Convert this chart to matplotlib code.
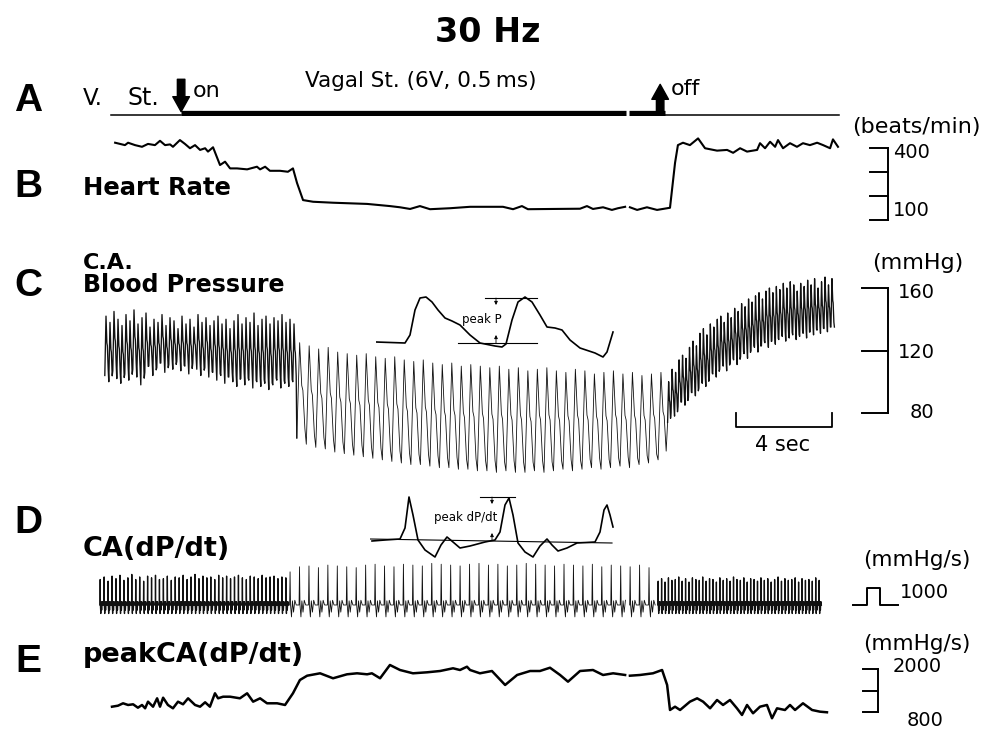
import matplotlib.pyplot as plt
import numpy as np

plt.rcParams['font.family'] = 'DejaVu Sans'

# ---------------- values ----------------
# time in seconds from the left end of the traces

# A: vagal stimulation marker
stim_span = [0.46, 30.8]
stim_on = 3.38
stim_off = 23.54
splice = [21.9, 22.06]          # small break in the chart paper

# B: heart rate (beats/min)
hr_t = [0.63, 1.04, 1.17, 1.46, 1.75, 2.0, 2.29, 2.5, 2.71, 2.92, 3.04, 3.33,
        3.54, 3.75, 3.96, 4.17, 4.38, 4.5, 4.71, 5.0, 5.21, 5.42, 5.71, 6.13,
        6.54, 6.67, 6.88, 7.08, 7.5, 7.83, 8.04, 8.21, 8.46, 8.88, 9.71, 11.13,
        12.08, 12.5, 12.92, 13.33, 13.75, 14.58, 15.42, 16.79, 17.21, 17.58, 17.83, 18.88,
        20.0, 20.29, 20.54, 20.96, 21.33, 21.58, 21.88, 22.08, 22.38, 22.79, 23.21, 23.75,
        23.96, 24.08, 24.29, 24.58, 24.92, 25.21, 25.71, 26.13, 26.38, 26.67, 26.96, 27.38,
        27.5, 27.71, 27.92, 28.13, 28.25, 28.46, 28.75, 29.04, 29.29, 29.58, 29.88, 30.13,
        30.42, 30.54, 30.75]
hr_bpm = [422, 412, 422, 412, 405, 417, 412, 430, 412, 415, 405, 433,
          417, 399, 412, 392, 399, 385, 403, 329, 343, 315, 315, 311,
          322, 311, 322, 305, 305, 301, 315, 254, 183, 176, 172, 167,
          158, 153, 146, 158, 145, 149, 155, 155, 145, 158, 145, 146,
          147, 158, 146, 153, 142, 149, 155, 153, 142, 153, 142, 151,
          338, 412, 422, 412, 440, 399, 389, 392, 380, 399, 385, 392,
          420, 399, 426, 405, 433, 399, 420, 405, 420, 412, 422, 412,
          399, 436, 405]

# C: carotid arterial pressure, beat by beat (mmHg)
bp_edges = [0.2, 8.2, 23.65, 30.6]
bp_sys_pre = [142, 138, 145, 140, 136, 143, 139, 146, 137, 141, 144, 135,
              140, 138, 143, 136, 141, 139, 134, 142, 137, 140, 135, 143,
              138, 141, 136, 139, 142, 137, 140, 134, 139, 143, 137, 141,
              138, 144, 136, 140, 142, 137, 141, 139, 143, 138, 140, 137]
bp_dia_pre = [104, 100, 107, 102, 99, 105, 101, 108, 103, 98, 106, 110,
              104, 109, 112, 106, 111, 108, 113, 107, 110, 105, 112, 108,
              104, 109, 103, 106, 101, 104, 99, 103, 100, 97, 102, 98,
              101, 96, 100, 97, 99, 95, 98, 101, 96, 99, 97, 100]
bp_sys_stim = [125, 123, 121, 122, 119, 118, 117, 118, 116, 115,
               116, 114, 113, 114, 112, 111, 112, 110, 111, 110,
               109, 110, 108, 109, 107, 108, 109, 107, 106, 108,
               107, 105, 106, 107, 105, 106, 104, 105, 106]
bp_dia_stim = [64, 60, 58, 57, 55, 54, 53, 52, 51, 50,
               49, 48, 47, 47, 46, 45, 45, 44, 44, 43,
               43, 42, 43, 42, 42, 43, 42, 43, 44, 43,
               44, 45, 44, 45, 46, 45, 47, 48, 50]
bp_sys_post = [100, 108, 106, 114, 117, 115, 122, 126, 123, 131,
               134, 130, 137, 135, 140, 142, 138, 144, 141, 147,
               145, 150, 148, 153, 151, 155, 157, 153, 158, 160,
               157, 161, 159, 163, 160, 164, 162, 158, 163, 161,
               165, 162, 166, 160, 164, 167, 162, 166]
bp_dia_post = [74, 80, 78, 84, 87, 85, 90, 93, 91, 96,
               99, 97, 102, 105, 103, 108, 110, 107, 112, 114,
               111, 116, 118, 115, 120, 122, 119, 123, 125, 122,
               126, 124, 127, 129, 126, 128, 130, 127, 129, 131,
               128, 132, 130, 133, 131, 134, 132, 135]

# D: dP/dt, peak of each beat (mmHg/s) and size of the negative swing
dp_edges = [0.0, 7.9, 23.25, 30.1]
dp_pk_pre = [1500, 1650, 1400, 1700, 1550, 1750, 1450, 1600, 1800, 1500, 1650, 1400,
             1700, 1600, 1750, 1500, 1550, 1700, 1450, 1650, 1600, 1750, 1500, 1650,
             1800, 1550, 1700, 1600, 1650, 1500, 1750, 1600, 1700, 1550, 1650, 1750,
             1600, 1500, 1700, 1650, 1550, 1750, 1600, 1650, 1700, 1550, 1650, 1600]
dp_pk_stim = [1950, 2250, 2300, 2200, 2350, 2300, 2250, 2200, 2350, 2400,
              2300, 2250, 2400, 2350, 2300, 2450, 2400, 2350, 2300, 2400,
              2450, 2350, 2400, 2300, 2350, 2450, 2400, 2350, 2300, 2400,
              2350, 2300, 2400, 2250, 2350, 2300, 2250, 2350, 2200]
dp_pk_post = [1400, 1550, 1350, 1600, 1450, 1500, 1650, 1400, 1550, 1350, 1600, 1500,
              1450, 1650, 1400, 1550, 1500, 1350, 1600, 1450, 1550, 1400, 1650, 1500,
              1450, 1600, 1350, 1550, 1500, 1400, 1600, 1450, 1550, 1350, 1500, 1650,
              1400, 1550, 1450, 1500, 1600, 1350, 1550, 1450, 1500, 1400, 1600, 1450]
dp_dip = [500, 700, 500]

# E: peak dP/dt (mmHg/s)
pk_t = [0.5, 0.75, 0.96, 1.17, 1.38, 1.58, 1.75, 1.88, 2.0, 2.21, 2.38, 2.5,
        2.63, 2.83, 3.04, 3.25, 3.46, 3.67, 3.96, 4.17, 4.38, 4.58, 4.79, 4.92,
        5.13, 5.42, 5.83, 6.13, 6.38, 6.67, 6.96, 7.38, 7.71, 8.04, 8.33, 8.63,
        9.17, 9.71, 10.29, 10.71, 11.13, 11.33, 11.67, 12.08, 12.5, 13.04, 13.63, 14.17,
        14.71, 15.0, 15.29, 15.42, 15.83, 16.33, 16.88, 17.38, 17.92, 18.33, 18.75, 19.17,
        19.5, 20.0, 20.54, 20.96, 21.38, 21.88, 22.08, 22.5, 23.04, 23.42, 23.63, 23.75,
        23.96, 24.17, 24.58, 24.88, 25.13, 25.42, 25.71, 25.96, 26.25, 26.54, 26.75, 26.96,
        27.21, 27.5, 27.79, 28.0, 28.21, 28.54, 28.75, 28.96, 29.29, 29.67, 30.0, 30.29]
pk_val = [948, 976, 1043, 996, 1015, 920, 996, 903, 1088, 948, 1182, 948,
          1199, 996, 903, 1088, 1015, 1182, 996, 948, 1071, 948, 1322, 1182,
          1227, 1227, 1182, 1322, 1088, 1182, 1043, 1043, 996, 1322, 1693, 1813,
          1880, 1741, 1852, 1880, 1852, 1880, 1741, 2112, 1972, 1880, 1908, 1944,
          2020, 1972, 2064, 1972, 1880, 1944, 1554, 1833, 1944, 1944, 2036, 1833,
          1646, 1944, 1972, 1833, 1880, 1833, 1813, 1833, 1880, 1972, 1554, 856,
          948, 856, 1088, 1182, 1088, 903, 1135, 996, 1135, 903, 717, 996,
          764, 948, 996, 625, 903, 856, 996, 856, 1043, 856, 809, 792]

# magnified single beats shown as insets (relative units)
ins_bp_x = [0, 29, 34, 39, 44, 50, 56, 62, 69, 76, 84, 94, 104, 119, 126, 130,
            136, 142, 149, 156, 164, 171, 179, 186, 194, 204, 219, 227, 231, 237]
ins_bp_y = [23, 22, 30, 55, 67, 68, 63, 55, 47, 44, 40, 30, 22, 19, 18, 21,
            45, 63, 68, 63, 50, 38, 37, 35, 25, 17, 12, 8, 13, 33]
ins_dp_x = [2, 15, 30, 35, 39, 43, 48, 55, 65, 71, 77, 83, 90, 100, 115, 125, 130, 135,
            139, 143, 148, 155, 163, 170, 177, 182, 188, 197, 207, 225, 230, 234, 237, 240, 243]
ins_dp_y = [24, 25, 26, 37, 68, 50, 25, 15, 8, 20, 28, 23, 17, 19, 23, 25, 33, 60,
            67, 50, 22, 13, 8, 19, 26, 20, 14, 17, 22, 23, 33, 55, 60, 50, 38]

# ---------------- drawing ----------------
W, H = 988.0, 731.0
X0 = 100.0          # left end of traces (px)
PPS = 24.0          # chart speed, px per second
T_END = 735.0 / PPS

fig = plt.figure(figsize=(W / 100, H / 100), dpi=100)
lab = fig.add_axes([0, 0, 1, 1])
lab.set_xlim(0, W)
lab.set_ylim(H, 0)
lab.axis('off')


def trace_ax(v_hi, py_hi, v_lo, py_lo):
    ax = fig.add_axes([X0 / W, 1 - py_lo / H, T_END * PPS / W, (py_lo - py_hi) / H])
    ax.set_xlim(0, T_END)
    ax.set_ylim(v_lo, v_hi)
    ax.axis('off')
    return ax


def with_break(t, v, gap):
    t = np.asarray(t, float)
    v = np.asarray(v, float)
    i = np.searchsorted(t, gap[0])
    return np.insert(t, i, np.nan), np.insert(v, i, np.nan)


def beats(t0, t1, lows, highs, frac, shape):
    edges = np.linspace(t0, t1, len(highs) + 1)
    ts, vs = [], []
    for i in range(len(highs)):
        dt = edges[i + 1] - edges[i]
        for f, s in zip(frac, shape):
            ts.append(edges[i] + f * dt)
            vs.append(lows[i] + s * (highs[i] - lows[i]))
    return ts, vs


# A ----------------------------------------------------------
axA = trace_ax(1, 80, 0, 116)
axA.plot([stim_span[0], stim_on], [0.014, 0.014], color='k', lw=1.1, clip_on=False)
axA.plot([stim_off, stim_span[1]], [0.014, 0.014], color='k', lw=1.1, clip_on=False)
axA.plot([stim_on, splice[0]], [0.08, 0.08], color='k', lw=3.8, solid_capstyle='butt')
axA.plot([splice[1], stim_off], [0.08, 0.08], color='k', lw=3.8, solid_capstyle='butt')
arrow = dict(arrowstyle='simple,head_width=1.0,head_length=0.9,tail_width=0.45',
             color='k', mutation_scale=12, shrinkA=0, shrinkB=0)
axA.annotate('', xy=(stim_on, 0.12), xytext=(stim_on, 1.02), arrowprops=arrow)
axA.annotate('', xy=(stim_off - 0.2, 0.88), xytext=(stim_off - 0.2, 0.12), arrowprops=arrow)

# B ----------------------------------------------------------
axB = trace_ax(400, 148, 100, 220)
t, v = with_break(hr_t, hr_bpm, splice)
axB.plot(t, v, color='k', lw=1.5, clip_on=False)
xb = 32.83
axB.plot([xb, xb], [100, 400], color='k', lw=1.4, clip_on=False)
for y in [100, 200, 300, 400]:
    axB.plot([32.08, xb], [y, y], color='k', lw=1.4, clip_on=False)

# C ----------------------------------------------------------
axC = trace_ax(160, 288, 80, 413)
BP_FRAC = [0, 0.3, 0.52, 0.64, 0.85]
BP_SHAPE = [0, 1, 0.55, 0.5, 0.1]
segs = [(bp_dia_pre, bp_sys_pre), (bp_dia_stim, bp_sys_stim), (bp_dia_post, bp_sys_post)]
for k, (lo, hi) in enumerate(segs):
    tt, vv = beats(bp_edges[k], bp_edges[k + 1], lo, hi, BP_FRAC, BP_SHAPE)
    if k < 2:
        nxt = segs[k + 1][0][0]
    else:
        nxt = lo[-1]
    tt.append(bp_edges[k + 1])
    vv.append(nxt)
    dense = k != 1
    axC.plot(tt, vv, color='#111111', lw=0.95 if dense else 0.6, clip_on=False)
axC.plot([xb, xb], [80, 160], color='k', lw=1.4, clip_on=False)
for y in [80, 120, 160]:
    axC.plot([31.75, xb], [y, y], color='k', lw=1.4, clip_on=False)
# 4 s time bar
axC.plot([26.5, 26.5, 30.5, 30.5], [80, 71, 71, 80], color='k', lw=1.3, clip_on=False)

# D ----------------------------------------------------------
axD = trace_ax(1000, 588, 0, 605)
DP_FRAC = [0, 0.05, 0.1, 0.2, 0.3, 0.42, 0.55, 0.7]
DP_PK = [0, 1, 0, 0, 0, 0, 0, 0]
DP_DIP = [0, 0, 0, -1, 0.35, -0.6, 0.4, 0]
for k, pks in enumerate([dp_pk_pre, dp_pk_stim, dp_pk_post]):
    edges = np.linspace(dp_edges[k], dp_edges[k + 1], len(pks) + 1)
    dt_all, dv_all = [], []
    for i, pk in enumerate(pks):
        span = edges[i + 1] - edges[i]
        for f, a, b in zip(DP_FRAC, DP_PK, DP_DIP):
            dt_all.append(edges[i] + f * span)
            dv_all.append(a * pk + b * dp_dip[k])
    dt_all = np.array(dt_all)
    dv_all = np.array(dv_all, float)
    dv_all[(dt_all > splice[0]) & (dt_all < splice[1])] = np.nan
    axD.plot(dt_all, dv_all, color='#111111', lw=0.6 if k == 1 else 0.95, clip_on=False)
# 1000 mmHg/s calibration pulse
axD.plot([31.38, 31.96, 31.96, 32.5, 32.5, 33.25], [0, 0, 1000, 1000, 0, 0],
         color='k', lw=1.4, clip_on=False)

# E ----------------------------------------------------------
axE = trace_ax(2000, 669, 800, 712)
t, v = with_break(pk_t, pk_val, splice)
axE.plot(t, v, color='k', lw=1.8, clip_on=False)
xe = 32.42
axE.plot([xe, xe], [800, 2000], color='k', lw=1.4, clip_on=False)
for y in [800, 1400, 2000]:
    axE.plot([31.79, xe], [y, y], color='k', lw=1.4, clip_on=False)

# insets -----------------------------------------------------
insC = fig.add_axes([376 / W, 1 - 365 / H, 250 / W, 75 / H])
insC.set_xlim(0, 250)
insC.set_ylim(0, 75)
insC.axis('off')
insC.plot(ins_bp_x, ins_bp_y, color='k', lw=1.2)
insC.plot([82, 161], [22, 22], color='k', lw=0.8)
insC.plot([109, 161], [67, 67], color='k', lw=0.8)
small = dict(arrowstyle='-|>', lw=0.6, color='k', mutation_scale=5, shrinkA=0, shrinkB=0)
insC.annotate('', xy=(120, 60), xytext=(120, 67), arrowprops=small)
insC.annotate('', xy=(120, 30), xytext=(120, 22), arrowprops=small)
insC.text(126, 45, 'peak P', ha='right', va='center', fontsize=8.5)

insD = fig.add_axes([370 / W, 1 - 565 / H, 250 / W, 75 / H])
insD.set_xlim(0, 250)
insD.set_ylim(0, 75)
insD.axis('off')
insD.plot(ins_dp_x, ins_dp_y, color='k', lw=1.2)
insD.plot([0, 242], [26, 22], color='k', lw=0.8)
insD.plot([110, 145], [68, 68], color='k', lw=0.8)
insD.annotate('', xy=(122, 61), xytext=(122, 68), arrowprops=small)
insD.annotate('', xy=(122, 32), xytext=(122, 24.5), arrowprops=small)
insD.text(127, 47, 'peak dP/dt', ha='right', va='center', fontsize=8.5)

# labels -----------------------------------------------------
lab.text(488, 32, '30 Hz', ha='center', va='center', fontsize=24, fontweight='bold')
for letter, y in [('A', 101), ('B', 187), ('C', 286), ('D', 523), ('E', 662)]:
    lab.text(28, y, letter, ha='center', va='center', fontsize=28,
             family='Liberation Sans', fontweight='bold')

lab.text(83, 105, 'V.', ha='left', va='baseline', fontsize=16.5)
lab.text(127, 105, 'St.', ha='left', va='baseline', fontsize=17)
lab.text(193, 91, 'on', ha='left', va='center', fontsize=16)
lab.text(421, 81, 'Vagal St. (6V, 0.5\u2009ms)', ha='center', va='center', fontsize=15.5)
lab.text(671, 89, 'off', ha='left', va='center', fontsize=16)

lab.text(83, 188, 'Heart Rate', ha='left', va='center', fontsize=17.5, fontweight='bold')
lab.text(83, 263, 'C.A.', ha='left', va='center', fontsize=16, fontweight='bold')
lab.text(83, 285, 'Blood Pressure', ha='left', va='center', fontsize=17, fontweight='bold')
lab.text(83, 549, 'CA(dP/dt)', ha='left', va='center', fontsize=19.5, fontweight='bold')
lab.text(83, 655, 'peakCA(dP/dt)', ha='left', va='center', fontsize=19.5, fontweight='bold')

lab.text(916, 127, '(beats/min)', ha='center', va='center', fontsize=16)
lab.text(893, 152, '400', ha='left', va='center', fontsize=14)
lab.text(893, 210, '100', ha='left', va='center', fontsize=14)
lab.text(918, 263, '(mmHg)', ha='center', va='center', fontsize=16)
lab.text(898, 292, '160', ha='left', va='center', fontsize=14)
lab.text(898, 352, '120', ha='left', va='center', fontsize=14)
lab.text(910, 413, '80', ha='left', va='center', fontsize=14)
lab.text(783, 445, '4 sec', ha='center', va='center', fontsize=15)
lab.text(917, 560, '(mmHg/s)', ha='center', va='center', fontsize=15.5)
lab.text(900, 592, '1000', ha='left', va='center', fontsize=14)
lab.text(917, 644, '(mmHg/s)', ha='center', va='center', fontsize=15.5)
lab.text(893, 666, '2000', ha='left', va='center', fontsize=14)
lab.text(907, 720, '800', ha='left', va='center', fontsize=14)

fig.savefig('out.png', dpi=100, facecolor='white')
